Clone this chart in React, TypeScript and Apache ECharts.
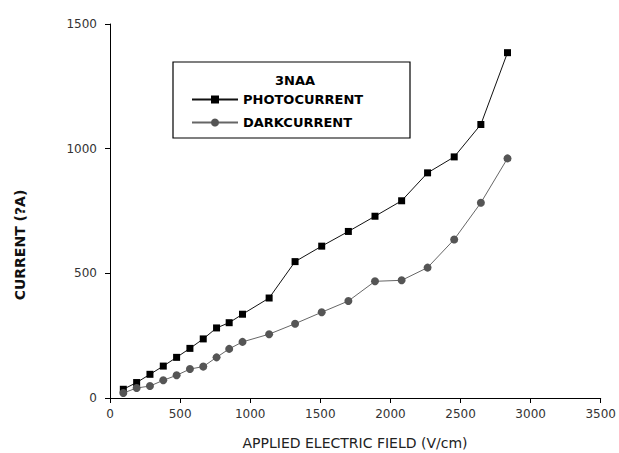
import React, { useEffect, useRef } from "react";
import * as echarts from "echarts";

const fieldValues = [95, 190, 285, 380, 475, 570, 665, 760, 850, 945, 1135, 1320, 1510, 1700, 1890, 2080, 2265, 2455, 2645, 2835];
const photoCurrent = [35, 62, 95, 128, 163, 199, 237, 281, 302, 336, 401, 547, 609, 668, 729, 791, 903, 967, 1097, 1385];
const darkCurrent = [20, 40, 48, 71, 91, 116, 126, 163, 197, 225, 256, 298, 344, 389, 468, 472, 523, 636, 783, 961];
const seriesNames = ["PHOTOCURRENT", "DARKCURRENT"];
const legendTitle = "3NAA";
const xAxisName = "APPLIED ELECTRIC FIELD (V/cm)";
const yAxisName = "CURRENT (?A)";

export default function App() {
  const ref = useRef<HTMLDivElement>(null);
  useEffect(() => {
    if (!ref.current) return;
    const chart = echarts.init(ref.current, null, { renderer: "svg" });
    const font = "DejaVu Sans";
    const axisCommon = {
      axisLine: { show: true, lineStyle: { color: "#000", width: 1 } },
      axisTick: { show: true, inside: false, length: 5, lineStyle: { color: "#000" } },
      splitLine: { show: false },
    };
    const plain = (v: number) => String(v);
    chart.setOption({
      animation: false,
      backgroundColor: "#fff",
      grid: { left: 110, right: 16, top: 24, bottom: 55 },
      xAxis: {
        type: "value",
        min: 0,
        max: 3500,
        interval: 500,
        ...axisCommon,
        axisLabel: { fontFamily: font, fontSize: 12, color: "#333", margin: 10, formatter: plain },
      },
      yAxis: {
        type: "value",
        min: 0,
        max: 1500,
        interval: 500,
        ...axisCommon,
        axisLabel: { fontFamily: font, fontSize: 12, color: "#333", margin: 13, formatter: plain },
      },
      legend: {
        orient: "vertical",
        left: 186,
        top: 88,
        itemWidth: 46,
        itemHeight: 10,
        itemGap: 10,
        textStyle: { fontFamily: font, fontWeight: "bold", fontSize: 13, color: "#000" },
        data: seriesNames,
      },
      graphic: [
        {
          type: "rect",
          shape: { x: 173, y: 62, width: 237, height: 76 },
          style: { fill: "none", stroke: "#000", lineWidth: 1.2 },
          z: 10,
        },
        {
          type: "text",
          x: 295,
          y: 80,
          style: {
            text: legendTitle,
            fontFamily: font,
            fontWeight: "bold",
            fontSize: 13,
            fill: "#000",
            align: "center",
            verticalAlign: "middle",
          },
          z: 10,
        },
        {
          type: "text",
          x: 355,
          y: 443,
          style: {
            text: xAxisName,
            fontFamily: font,
            fontSize: 14,
            fill: "#222",
            align: "center",
            verticalAlign: "middle",
          },
        },
        {
          type: "text",
          x: 20,
          y: 245,
          rotation: Math.PI / 2,
          style: {
            text: yAxisName,
            fontFamily: font,
            fontWeight: "bold",
            fontSize: 14,
            fill: "#111",
            align: "center",
            verticalAlign: "middle",
          },
        },
      ],
      series: [
        {
          name: seriesNames[0],
          type: "line",
          data: fieldValues.map((x, i) => [x, photoCurrent[i]]),
          symbol: "rect",
          symbolSize: 7,
          itemStyle: { color: "#000" },
          lineStyle: { color: "#111", width: 1 },
        },
        {
          name: seriesNames[1],
          type: "line",
          data: fieldValues.map((x, i) => [x, darkCurrent[i]]),
          symbol: "circle",
          symbolSize: 8,
          itemStyle: { color: "#555" },
          lineStyle: { color: "#666", width: 1 },
        },
      ],
    });
    return () => chart.dispose();
  }, []);
  return <div ref={ref} style={{ width: 619, height: 453, position: "absolute", left: 0, top: 0 }} />;
}
